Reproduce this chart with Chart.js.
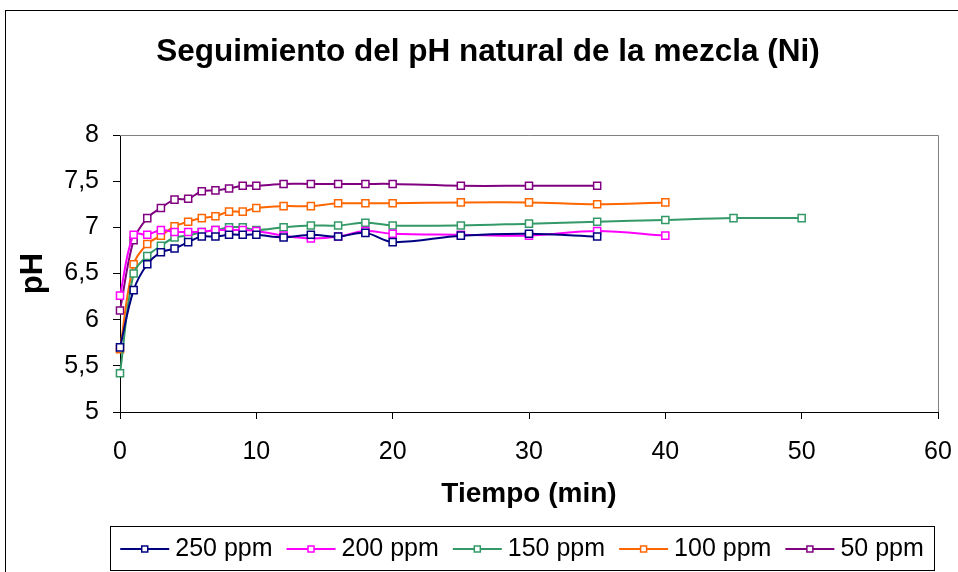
<!DOCTYPE html>
<html>
<head>
<meta charset="utf-8">
<title>Seguimiento del pH natural de la mezcla (Ni)</title>
<script src="https://cdn.jsdelivr.net/npm/chart.js@4.4.1/dist/chart.umd.min.js"></script>
<style>
  html, body { margin: 0; padding: 0; background: #fff; }
  #phChart { display: block; }
</style>
</head>
<body>
<canvas id="phChart" width="958" height="572"></canvas>
<script>
// tiempo de muestreo (min)
const tiempos = [0, 1, 2, 3, 4, 5, 6, 7, 8, 9, 10, 12, 14, 16, 18, 20, 25, 30, 35, 40, 45, 50];

const ph250 = [5.70, 6.32, 6.60, 6.73, 6.77, 6.84, 6.90, 6.90, 6.92, 6.92, 6.92, 6.89, 6.92, 6.90, 6.94, 6.84, 6.91, 6.93, 6.90];
const ph200 = [6.26, 6.92, 6.92, 6.97, 6.95, 6.95, 6.95, 6.97, 6.97, 6.97, 6.96, 6.91, 6.88, 6.90, 6.96, 6.93, 6.92, 6.91, 6.96, 6.91];
const ph150 = [5.42, 6.50, 6.69, 6.80, 6.89, 6.91, 6.95, 6.97, 7.00, 7.00, 6.97, 7.00, 7.02, 7.02, 7.05, 7.02, 7.02, 7.04, 7.06, 7.08, 7.10, 7.10];
const ph100 = [5.68, 6.60, 6.82, 6.91, 7.01, 7.06, 7.10, 7.12, 7.17, 7.17, 7.21, 7.23, 7.23, 7.26, 7.26, 7.26, 7.27, 7.27, 7.25, 7.27];
const ph50  = [6.10, 6.86, 7.10, 7.21, 7.30, 7.31, 7.39, 7.40, 7.42, 7.45, 7.45, 7.47, 7.47, 7.47, 7.47, 7.47, 7.45, 7.45, 7.45];

const seriesNames  = ['250 ppm', '200 ppm', '150 ppm', '100 ppm', '50 ppm'];
const seriesColors = ['#000080', '#FF00FF', '#339966', '#FF6600', '#800080'];
const seriesValues = [ph250, ph200, ph150, ph100, ph50];

// marcas de los ejes
const xTickValues = [0, 10, 20, 30, 40, 50, 60];
const yTickValues = [5, 5.5, 6, 6.5, 7, 7.5, 8];

const FONT = '"Liberation Sans", Arial, sans-serif';

// fondo blanco y marco exterior del gráfico (como en Excel)
const chartFrame = {
    id: 'chartFrame',
    beforeDraw(chart) {
        const ctx = chart.ctx;
        ctx.save();
        ctx.fillStyle = '#fff';
        ctx.fillRect(0, 0, chart.width, chart.height);
        ctx.strokeStyle = '#000';
        ctx.lineWidth = 1;
        ctx.strokeRect(5.5, 10.5, chart.width + 20, chart.height + 20);
        ctx.restore();
    },
    // borde gris arriba y a la derecha del área de trazado
    beforeDatasetsDraw(chart) {
        const {ctx, chartArea: a} = chart;
        ctx.save();
        ctx.strokeStyle = '#808080';
        ctx.lineWidth = 1;
        ctx.beginPath();
        ctx.moveTo(a.left, Math.round(a.top) + 0.5);
        ctx.lineTo(Math.round(a.right) + 0.5, Math.round(a.top) + 0.5);
        ctx.lineTo(Math.round(a.right) + 0.5, a.bottom);
        ctx.stroke();
        ctx.restore();
    }
};

// leyenda con recuadro: línea + marcador cuadrado, como la de Excel
const boxedLegend = {
    id: 'boxedLegend',
    afterDraw(chart) {
        const ctx = chart.ctx;
        const box = {left: 110, top: 526, right: 934, bottom: 570};
        const lineLen = 49, gap = 6, itemGap = 14;
        ctx.save();
        ctx.strokeStyle = '#000';
        ctx.lineWidth = 1;
        ctx.strokeRect(box.left + 0.5, box.top + 0.5, box.right - box.left, box.bottom - box.top);

        ctx.font = '25px ' + FONT;
        ctx.textBaseline = 'middle';
        ctx.textAlign = 'left';
        const items = chart.data.datasets.map(ds => ({ds, w: ctx.measureText(ds.label).width}));
        const total = items.reduce((s, it) => s + lineLen + gap + it.w, 0) + itemGap * (items.length - 1);
        let x = (box.left + box.right) / 2 - total / 2;
        const y = (box.top + box.bottom) / 2 + 1;

        items.forEach(({ds, w}) => {
            ctx.strokeStyle = ds.borderColor;
            ctx.lineWidth = 2;
            ctx.beginPath();
            ctx.moveTo(x, y);
            ctx.lineTo(x + lineLen, y);
            ctx.stroke();
            ctx.fillStyle = '#fff';
            ctx.lineWidth = 1.5;
            ctx.fillRect(x + lineLen / 2 - 3, y - 3, 6, 6);
            ctx.strokeRect(x + lineLen / 2 - 3, y - 3, 6, 6);
            ctx.fillStyle = '#000';
            ctx.fillText(ds.label, x + lineLen + gap, y);
            x += lineLen + gap + w + itemGap;
        });
        ctx.restore();
    }
};

const datasets = seriesNames.map((name, i) => ({
    label: name,
    data: seriesValues[i].map((v, j) => ({x: tiempos[j], y: v})),
    borderColor: seriesColors[i],
    backgroundColor: '#fff',
    borderWidth: 2,
    tension: 0.35,
    pointStyle: 'rect',
    pointRadius: 5,
    pointBorderWidth: 1.5,
    pointBackgroundColor: '#fff',
    pointBorderColor: seriesColors[i],
    clip: false
}));

new Chart(document.getElementById('phChart'), {
    type: 'line',
    data: {datasets: datasets},
    options: {
        responsive: false,
        animation: false,
        events: [],
        layout: {padding: {left: 38, right: 20, top: 0, bottom: 60}},
        scales: {
            x: {
                type: 'linear',
                min: 0,
                max: 60,
                afterBuildTicks: s => { s.ticks = xTickValues.map(v => ({value: v})); },
                afterFit: s => {
                    s.height = 100;
                    // que la etiqueta "60" no empuje el área de trazado
                    s.paddingLeft = 0;
                    s.paddingRight = 0;
                },
                ticks: {color: '#000', font: {family: FONT, size: 25}, padding: 18.5},
                grid: {drawOnChartArea: false, drawTicks: true, tickLength: 7, color: '#000', lineWidth: 1},
                border: {color: '#000', width: 1},
                title: {
                    display: true,
                    text: 'Tiempo (min)',
                    color: '#000',
                    font: {family: FONT, size: 28, weight: 'bold'},
                    padding: {top: 0, bottom: 1}
                }
            },
            y: {
                min: 5,
                max: 8,
                afterBuildTicks: s => { s.ticks = yTickValues.map(v => ({value: v})); },
                afterFit: s => { s.width = 82; },
                ticks: {
                    color: '#000',
                    font: {family: FONT, size: 25},
                    padding: 14,
                    callback: v => String(v).replace('.', ',')
                },
                grid: {drawOnChartArea: false, drawTicks: true, tickLength: 7, color: '#000', lineWidth: 1},
                border: {color: '#000', width: 1},
                title: {
                    display: true,
                    text: 'pH',
                    color: '#000',
                    font: {family: FONT, size: 31, weight: 'bold'},
                    padding: {top: -23.6, bottom: 0}
                }
            }
        },
        plugins: {
            legend: {display: false},
            tooltip: {enabled: false},
            title: {
                display: true,
                text: 'Seguimiento del pH natural de la mezcla (Ni)',
                color: '#000',
                font: {family: FONT, size: 31.5, weight: 'bold'},
                padding: {top: 33.6, bottom: 63.6}
            }
        }
    },
    plugins: [chartFrame, boxedLegend]
});
</script>
</body>
</html>
